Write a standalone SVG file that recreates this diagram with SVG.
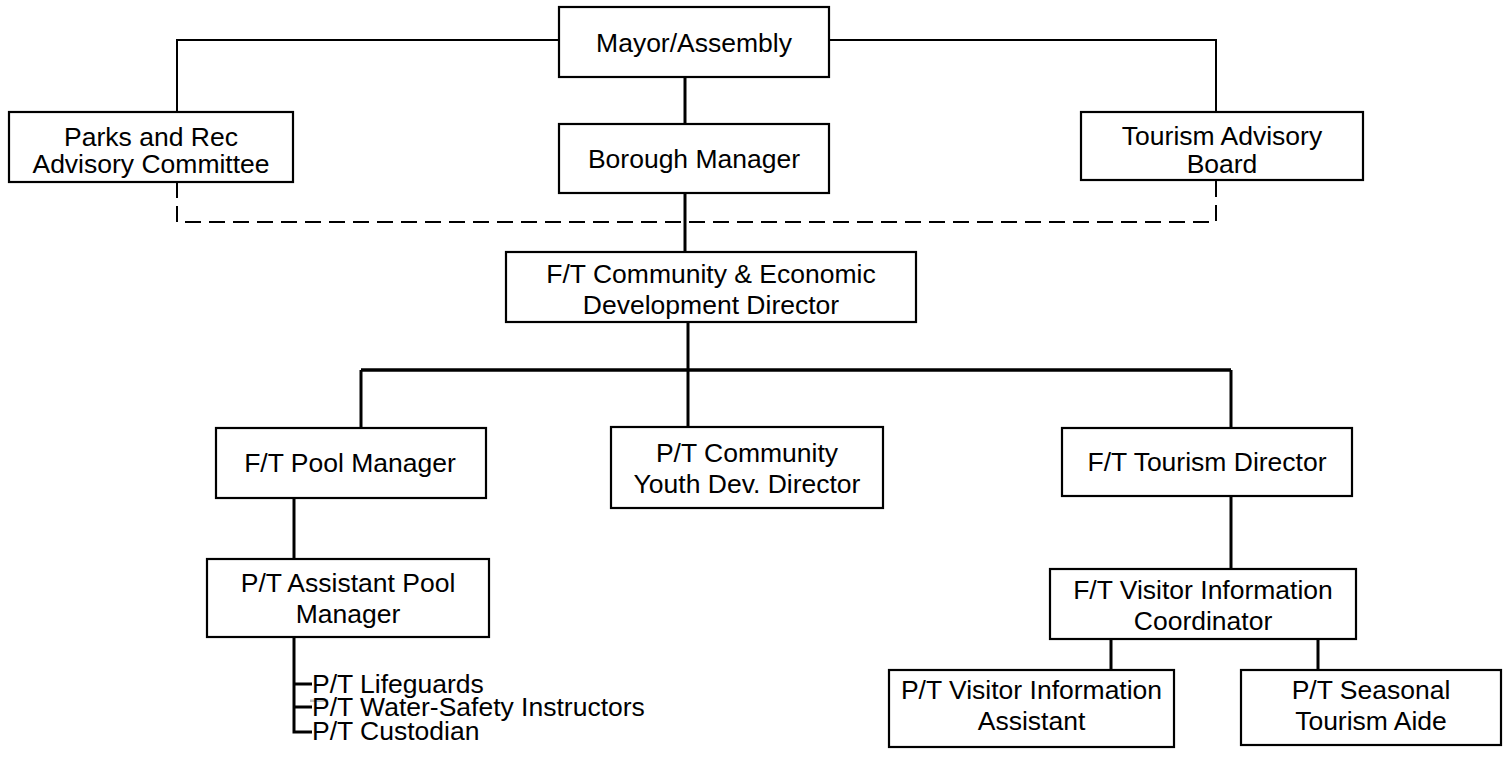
<svg xmlns="http://www.w3.org/2000/svg" width="1503" height="763" viewBox="0 0 1503 763">
<style>
.box{fill:#fff;stroke:#000;stroke-width:2.2}
.t{font-family:"Liberation Sans",Arial,sans-serif;font-size:26.5px;fill:#000;text-anchor:middle}
.ts{font-family:"Liberation Sans",Arial,sans-serif;font-size:26.5px;fill:#000;text-anchor:start}
.ln{stroke:#000;stroke-width:3;fill:none}
.thin{stroke-width:2}
.dash{stroke-dasharray:16 8}
</style>
<rect width="1503" height="763" fill="#fff"/>
<g id="connectors">
<path class="ln thin" d="M559,40 H177 V112"/>
<path class="ln thin" d="M829,40 H1216 V112"/>
<path class="ln" d="M685,77 V124"/>
<path class="ln" d="M685,193 V252"/>
<path class="ln thin dash" d="M177,182 V222 H1216 V180"/>
<path class="ln" d="M688,320 V427"/>
<path class="ln" d="M361,370 H1231" style="stroke-width:3.5"/>
<path class="ln" d="M361,370 V428"/>
<path class="ln" d="M1231,370 V428"/>
<path class="ln" d="M1231,496 V569"/>
<path class="ln" d="M294,498 V559"/>
<path class="ln" d="M294,637 V732 H312 M294,684 H312 M294,707 H312"/>
<path class="ln" d="M1111,639 V670 M1318,639 V670"/>
</g>
<g id="mayor"><rect class="box" x="559" y="7" width="270" height="70"/><text class="t" x="694" y="52">Mayor/Assembly</text></g>
<g id="borough"><rect class="box" x="559" y="124" width="270" height="69"/><text class="t" x="694" y="168">Borough Manager</text></g>
<g id="parks"><rect class="box" x="9" y="112" width="284" height="70"/><text class="t" x="151" y="145.5">Parks and Rec</text><text class="t" x="151" y="172.5">Advisory Committee</text></g>
<g id="tourismBoard"><rect class="box" x="1081" y="112" width="282" height="68"/><text class="t" x="1222" y="145">Tourism Advisory</text><text class="t" x="1222" y="172.5">Board</text></g>
<g id="ceDirector"><rect class="box" x="506" y="252" width="410" height="70"/><text class="t" x="711" y="283">F/T Community &amp; Economic</text><text class="t" x="711" y="314">Development Director</text></g>
<g id="poolManager"><rect class="box" x="216" y="428" width="270" height="70"/><text class="t" x="350" y="472">F/T Pool Manager</text></g>
<g id="youthDirector"><rect class="box" x="611" y="427" width="272" height="81"/><text class="t" x="747" y="462">P/T Community</text><text class="t" x="747" y="493">Youth Dev. Director</text></g>
<g id="tourismDirector"><rect class="box" x="1062" y="428" width="290" height="68"/><text class="t" x="1207" y="471">F/T Tourism Director</text></g>
<g id="assistantPool"><rect class="box" x="207" y="559" width="282" height="78"/><text class="t" x="348" y="592">P/T Assistant Pool</text><text class="t" x="348" y="623">Manager</text></g>
<g id="poolStaff">
<text class="ts" x="312" y="693">P/T Lifeguards</text>
<rect x="310" y="699.5" width="18" height="2.5" fill="#c0c0c0"/>
<text class="ts" x="312" y="716">P/T Water-Safety Instructors</text>
<text class="ts" x="312" y="740">P/T Custodian</text>
</g>
<g id="visitorCoordinator"><rect class="box" x="1050" y="569" width="306" height="70"/><text class="t" x="1203" y="599">F/T Visitor Information</text><text class="t" x="1203" y="630">Coordinator</text></g>
<g id="visitorAssistant"><rect class="box" x="889" y="670" width="285" height="77"/><text class="t" x="1031.5" y="699">P/T Visitor Information</text><text class="t" x="1031.5" y="730">Assistant</text></g>
<g id="seasonalAide"><rect class="box" x="1241" y="670" width="260" height="75"/><text class="t" x="1371" y="699">P/T Seasonal</text><text class="t" x="1371" y="730">Tourism Aide</text></g>
</svg>
